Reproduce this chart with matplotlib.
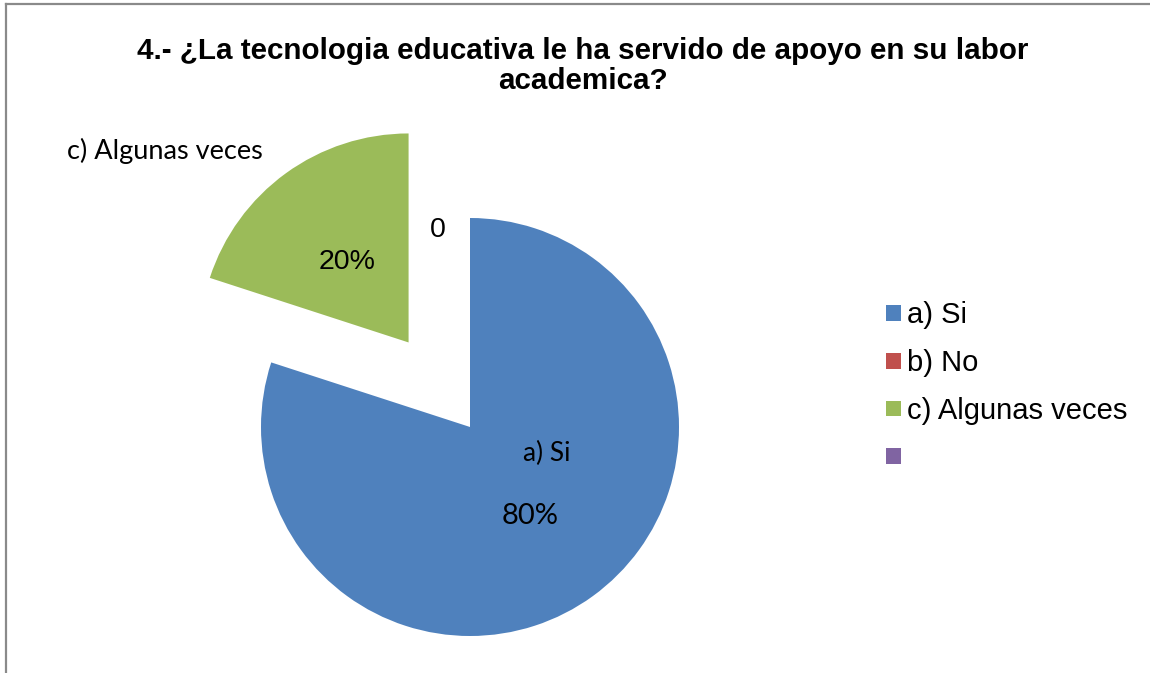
import matplotlib
matplotlib.use("Agg")
import matplotlib.pyplot as plt
from matplotlib.lines import Line2D

# datos del gráfico
categorias = ["a) Si", "b) No", "c) Algunas veces", ""]
valores = [80, 0, 20, 0]
colores = ["#4F81BD", "#C0504D", "#9BBB59", "#8064A2"]
separacion = [0, 0, 0.5, 0]   # fracción del radio
titulo = "4.- ¿La tecnologia educativa le ha servido de apoyo en su labor\nacademica?"

W, H = 1150, 673
R = 209
fig = plt.figure(figsize=(W / 100, H / 100), dpi=100)
ax = fig.add_axes([0, 0, 1, 1])

# matplotlib aplica explode en unidades de datos, no relativas al radio
wedges, _ = ax.pie(valores, colors=colores, startangle=90, counterclock=False,
                   explode=[e * R for e in separacion], center=(470, H - 427), radius=R,
                   wedgeprops=dict(linewidth=0))
ax.set_xlim(0, W); ax.set_ylim(0, H); ax.set_aspect("equal")
ax.axis("off")

# etiquetas de datos (posición al estilo Excel)
calibri = ["Lato", "DejaVu Sans"]
ax.text(547, H - 453, "a) Si", ha="center", va="center", fontsize=19, family=calibri)
ax.text(530, H - 516, f"{valores[0]}%", ha="center", va="center", fontsize=21, family=calibri)
ax.text(347, H - 262, f"{valores[2]}%", ha="center", va="center", fontsize=20.5,
        family="Liberation Sans")
ax.text(165, H - 151, "c) Algunas veces", ha="center", va="center", fontsize=19.5, family=calibri)
ax.text(438, H - 230, f"{valores[1]}", ha="center", va="center", fontsize=20.5,
        family="Liberation Sans")

ax.text(583, H - 66, titulo, ha="center", va="center", fontsize=21.3, fontweight="bold",
        family="Liberation Sans", linespacing=1.1)

leg = ax.legend(wedges, categorias, loc="center left",
                bbox_to_anchor=(886 / W, (H - 387) / H), bbox_transform=fig.transFigure,
                frameon=False, borderpad=0, borderaxespad=0,
                prop=dict(family="Liberation Sans", size=21),
                handlelength=0.5, handleheight=0.46, handletextpad=0.22, labelspacing=0.68)

# marco del área del gráfico
fig.add_artist(Line2D([5.5 / W, 5.5 / W], [0, (H - 3.5) / H], color="#8a8a8a", lw=1.6))
fig.add_artist(Line2D([5.5 / W, 1], [(H - 3.5) / H, (H - 3.5) / H], color="#8a8a8a", lw=1.6))

fig.savefig("out.png", dpi=100)
